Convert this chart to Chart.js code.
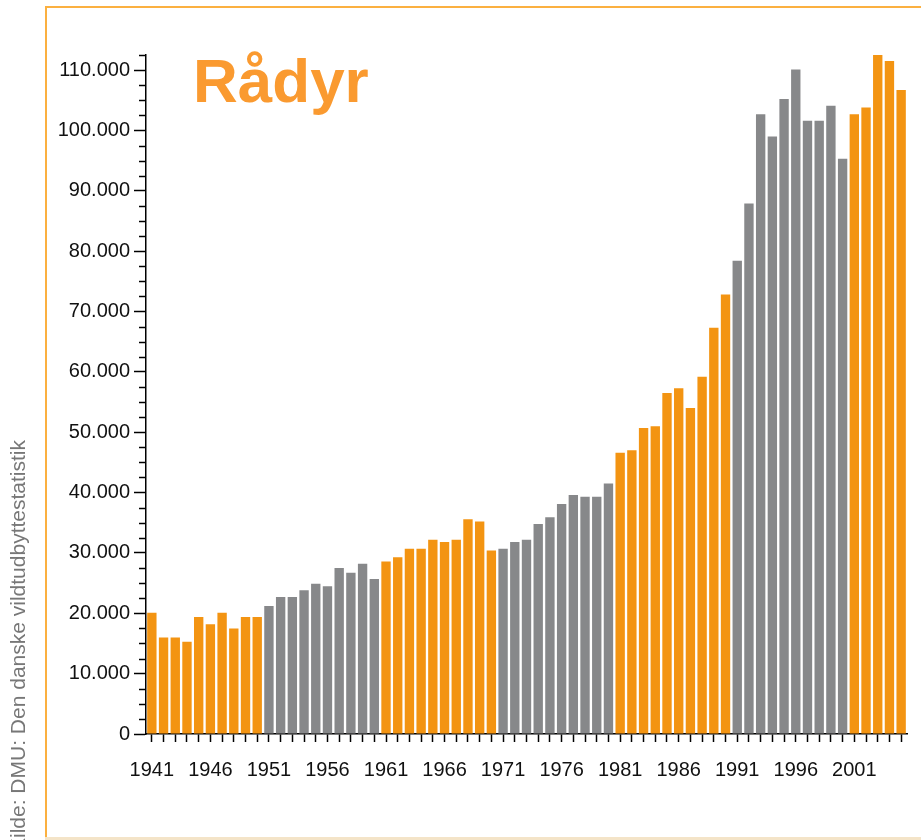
<!DOCTYPE html>
<html>
<head>
<meta charset="utf-8">
<script src="https://cdn.jsdelivr.net/npm/chart.js@4"></script>
<style>
  html, body { margin: 0; padding: 0; background: #fff; }
  #wrap { position: relative; width: 921px; height: 840px; overflow: hidden; }
  #frame { position: absolute; left: 45px; top: 6px; width: 900px; height: 900px;
           border-left: 2px solid #fbb040; border-top: 2px solid #fbb040; }
  #bund { position: absolute; left: 45px; top: 837px; width: 900px; height: 3px; background: #f4e4c8; }
  #titel { position: absolute; left: 193px; top: 50px; font: bold 62px "Liberation Sans", Arial, sans-serif;
           line-height: 1; color: #fa9a30; }
  #kilde { position: absolute; left: 5px; top: 852px; transform-origin: 0 0; transform: rotate(-90deg);
           font: 21px "Liberation Sans", Arial, sans-serif; color: #777; white-space: nowrap; line-height: 25px; }
  canvas { position: absolute; left: 0; top: 0; }
</style>
</head>
<body>
<div id="wrap">
  <div id="frame"></div>
  <div id="bund"></div>
  <canvas id="myChart" width="921" height="840"></canvas>
  <div id="titel">Rådyr</div>
  <div id="kilde">Kilde: DMU: Den danske vildtudbyttestatistik</div>
</div>
<script>
// årstal (x-aksen)
const aar = [1941, 1942, 1943, 1944, 1945, 1946, 1947, 1948, 1949, 1950,
             1951, 1952, 1953, 1954, 1955, 1956, 1957, 1958, 1959, 1960,
             1961, 1962, 1963, 1964, 1965, 1966, 1967, 1968, 1969, 1970,
             1971, 1972, 1973, 1974, 1975, 1976, 1977, 1978, 1979, 1980,
             1981, 1982, 1983, 1984, 1985, 1986, 1987, 1988, 1989, 1990,
             1991, 1992, 1993, 1994, 1995, 1996, 1997, 1998, 1999, 2000,
             2001, 2002, 2003, 2004, 2005];

// nedlagte rådyr pr. år
const udbytte = [20100, 16000, 16000, 15300, 19400, 18200, 20100, 17500, 19400, 19400,
                 21200, 22700, 22700, 23800, 24900, 24500, 27500, 26700, 28200, 25700,
                 28600, 29300, 30700, 30700, 32200, 31800, 32200, 35600, 35200, 30400,
                 30700, 31800, 32200, 34800, 35900, 38100, 39600, 39300, 39300, 41500,
                 46600, 47000, 50700, 51000, 56500, 57300, 54000, 59200, 67300, 72800,
                 78400, 87900, 102700, 99000, 105200, 110100, 101600, 101600, 104100, 95300,
                 102700, 103800, 112500, 111500, 106700];

// årstal der får en etiket
const aarEtiketter = [1941, 1946, 1951, 1956, 1961, 1966, 1971, 1976, 1981, 1986, 1991, 1996, 2001];

const orange = '#f39412';
const graa = '#87888a';

// skiftevis orange/grå for hvert årti (1941-50 orange, 1951-60 grå, ...)
function farve(ctx) {
    const a = aar[ctx.dataIndex];
    const blok = Math.floor((a - 1941) / 10);
    return blok % 2 === 0 ? orange : graa;
}

function punktum(v) {
    return String(v).replace(/\B(?=(\d{3})+(?!\d))/g, '.');
}

// små mellemliggende streger på y-aksen
const smaaStreger = {
    id: 'smaaStreger',
    afterDraw(chart) {
        const y = chart.scales.y;
        const c = chart.ctx;
        const x0 = chart.chartArea.left;
        c.save();
        c.strokeStyle = '#000';
        c.lineWidth = 1.5;
        for (let v = 0; v <= y.max; v += 2500) {
            if (v % 10000 === 0) continue;
            const py = Math.round(y.getPixelForValue(v)) + 0.5;
            c.beginPath();
            c.moveTo(x0 - 7, py);
            c.lineTo(x0, py);
            c.stroke();
        }
        c.restore();
    }
};

const ctx = document.getElementById('myChart').getContext('2d');
const skrift = { family: '"Liberation Sans Narrow", "Liberation Sans", Arial, sans-serif', size: 20 };

new Chart(ctx, {
    type: 'bar',
    data: {
        labels: aar,
        datasets: [{
            data: udbytte,
            backgroundColor: farve,
            borderWidth: 0,
            barPercentage: 0.8,
            categoryPercentage: 1.0
        }]
    },
    options: {
        responsive: false,
        animation: false,
        layout: { padding: { left: 50, right: 14, top: 55, bottom: 26 } },
        plugins: { legend: { display: false }, tooltip: { enabled: false } },
        scales: {
            x: {
                grid: { drawOnChartArea: false, offset: false, tickLength: 8, tickColor: '#000', tickWidth: 1.5 },
                border: { color: '#000', width: 1.5 },
                ticks: {
                    autoSkip: false, maxRotation: 0, padding: 16, color: '#111', font: skrift,
                    callback: function (val, i) {
                        return aarEtiketter.includes(aar[i]) ? String(aar[i]) : '';
                    }
                },
                afterFit(scale) { scale.height = 80; }
            },
            y: {
                min: 0, max: 112500,
                grid: {
                    drawOnChartArea: false, tickLength: 12, tickWidth: 1.5,
                    tickColor: c => (c.tick && c.tick.value % 10000 === 0) ? '#000' : 'rgba(0,0,0,0)'
                },
                border: { color: '#000', width: 1.5 },
                ticks: {
                    stepSize: 2500, autoSkip: false, padding: 4, color: '#111', font: skrift,
                    callback: v => v % 10000 === 0 ? punktum(v) : ''
                },
                afterFit(scale) { scale.width = 96; }
            }
        }
    },
    plugins: [smaaStreger]
});
</script>
</body>
</html>
